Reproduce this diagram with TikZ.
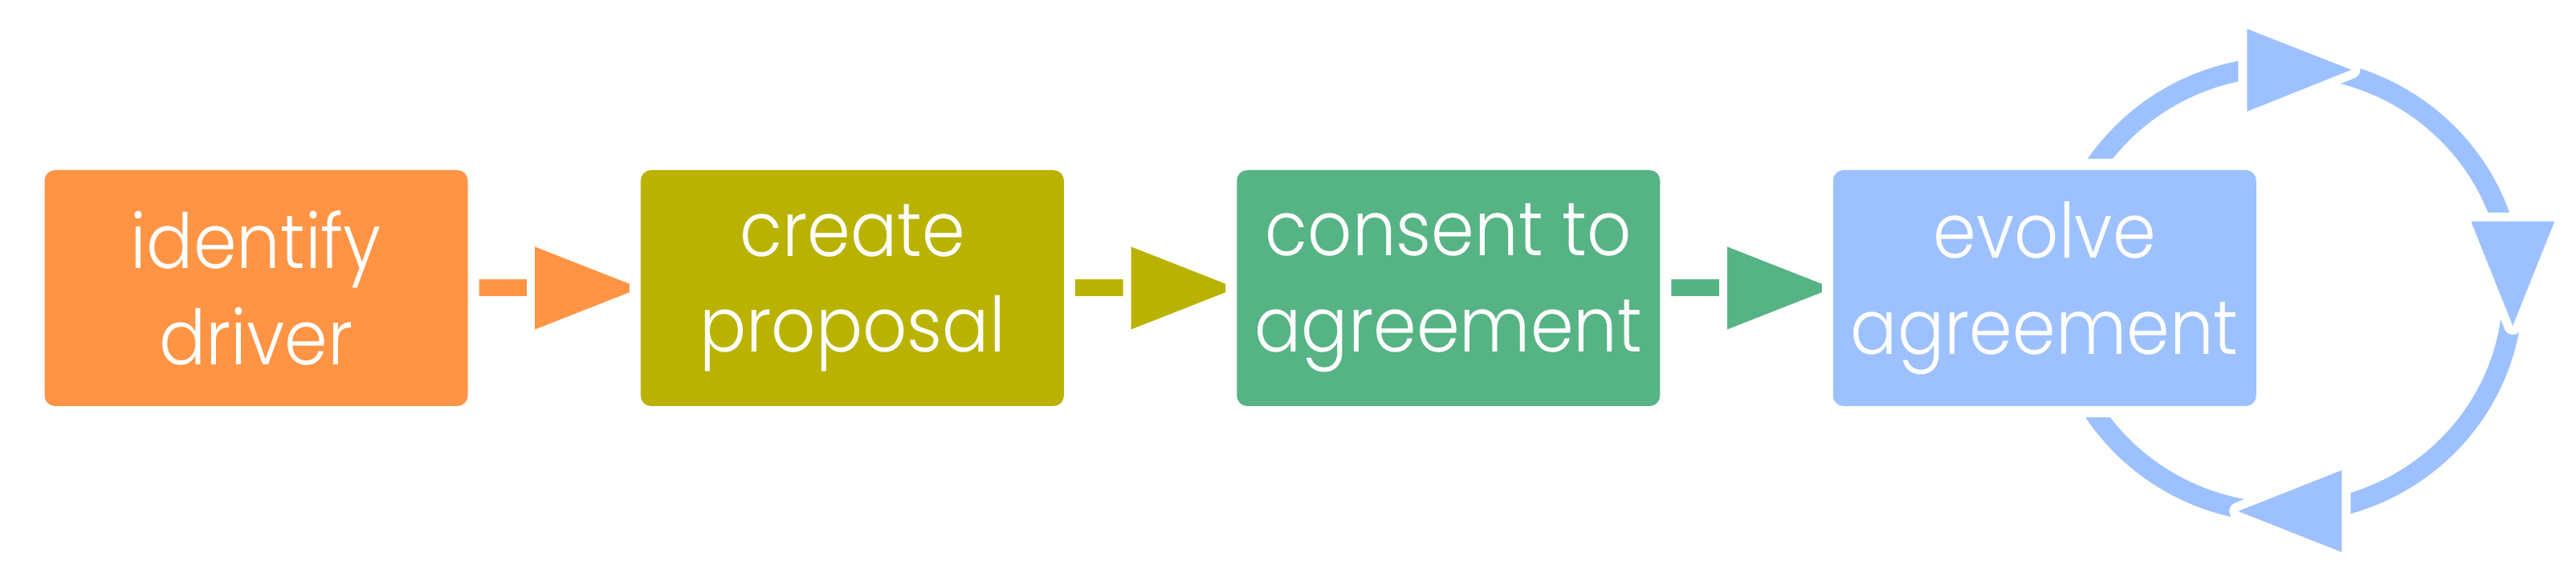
\documentclass[tikz,border=0pt]{standalone}
\usepackage{fontspec}
\setmainfont{Poppins}[UprightFont=* Light, FakeStretch=0.91]
\usepackage{tikz}
\usetikzlibrary{
  calc,        % 坐标计算
  positioning, % 节点相对定位
  backgrounds  % 箭头放在背景层
}
\definecolor{driverorange}{HTML}{FF9444}
\definecolor{proposalolive}{HTML}{BAB200}
\definecolor{consentgreen}{HTML}{56B384}
\definecolor{evolveblue}{HTML}{9DC1FF}
\tikzset{
  stepbox/.style={
    rectangle,
    rounded corners=0.13cm,
    minimum width=5.27cm,
    minimum height=2.94cm,
    text=white,
    align=center,
    font=\fontsize{27}{34}\selectfont,
    preaction={draw=white, line width=0.28cm}
  },
  link stem/.style={
    line width=0.21cm
  },
  link head/.style={
    preaction={draw=white, line width=0.2cm, line join=round}
  },
  cycle ring/.style={
    draw=evolveblue,
    line width=0.25cm
  },
  ring head/.style={
    fill=evolveblue,
    preaction={draw=white, line width=0.22cm, line join=round}
  }
}

\begin{document}
\begin{tikzpicture}[node distance=2.14cm]
  \useasboundingbox (0,0) rectangle (32.08,7.19);

  % ======================= 四个步骤 =======================
  \node[stepbox, fill=driverorange] (drv) at (3.19,3.6) {identify\\driver};
  \node[stepbox, fill=proposalolive, right=of drv] (prop) {create\\proposal};
  \node[stepbox, fill=consentgreen, right=of prop] (agr) {consent to\\agreement};
  \node[stepbox, fill=evolveblue, right=of agr] (evo) {evolve\\agreement};

  \begin{scope}[on background layer]
    % ======================= 步骤之间的箭头 =======================
    \foreach \a/\b/\c in {drv/prop/driverorange, prop/agr/proposalolive, agr/evo/consentgreen}{
      \draw[link stem, \c] (\a.east) -- ([xshift=-1.31cm]\b.west);
      \fill[link head, \c] ([xshift=-1.31cm, yshift=0.515cm]\b.west)
        -- ([xshift=-1.31cm, yshift=-0.515cm]\b.west) -- (\b.west) -- cycle;
    }

    % ======================= 循环圈 =======================
    \coordinate (rc) at ($(evo.center)+(2.99,-0.02)$);
    \draw[cycle ring] (rc) ellipse [x radius=2.84cm, y radius=2.78cm];

    % 三个三角箭头 (上, 右, 下)
    \fill[ring head] ($(rc)+(-0.47,3.25)$) -- ($(rc)+(-0.47,2.22)$) -- ($(rc)+(0.83,2.74)$) -- cycle;
    \fill[ring head] ($(rc)+(2.32,0.85)$) -- ($(rc)+(3.36,0.85)$) -- ($(rc)+(2.84,-0.45)$) -- cycle;
    \fill[ring head] ($(rc)+(0.71,-2.25)$) -- ($(rc)+(0.71,-3.27)$) -- ($(rc)+(-0.58,-2.76)$) -- cycle;
  \end{scope}

\end{tikzpicture}
\end{document}
